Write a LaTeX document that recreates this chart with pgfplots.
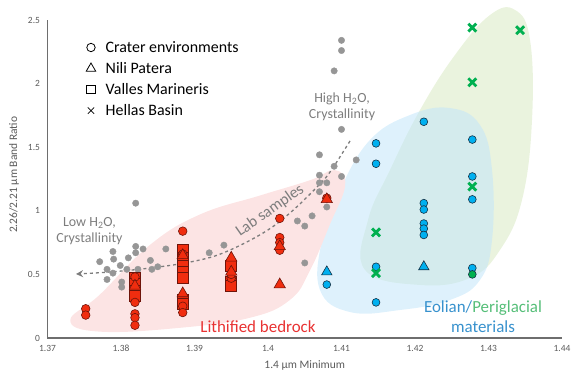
\documentclass[border=0pt]{standalone}
\usepackage{pgfplots}
\pgfplotsset{compat=1.18}
\usepackage{fontspec}
\setmainfont{Carlito}
\usetikzlibrary{arrows.meta}
\definecolor{redm}{RGB}{240,45,15}
\definecolor{redline}{RGB}{110,20,10}
\definecolor{bluem}{RGB}{0,176,240}
\definecolor{blueline}{RGB}{20,50,70}
\definecolor{greenm}{RGB}{0,176,80}
\definecolor{graym}{RGB}{150,150,150}
\definecolor{pinkr}{RGB}{252,228,228}
\definecolor{bluer}{RGB}{195,230,250}
\definecolor{greenr}{RGB}{234,243,222}
\definecolor{axgray}{RGB}{110,110,110}
\definecolor{tickgray}{RGB}{90,90,90}
\definecolor{txtgray}{RGB}{125,125,125}
\definecolor{lithred}{RGB}{232,50,50}
\definecolor{eolblue}{RGB}{55,145,205}
\definecolor{perigreen}{RGB}{85,190,120}
\begin{document}
\begin{tikzpicture}
\useasboundingbox (-47.5bp,-40bp) rectangle (525.5bp,338bp);
\begin{axis}[
  scale only axis, width=514.5bp, height=318bp,
  xmin=1.37, xmax=1.44, ymin=0, ymax=2.5,
  xtick={1.37,1.38,1.39,1.4,1.41,1.42,1.43,1.44},
  ytick={0,0.5,1,1.5,2,2.5},
  axis x line=bottom, axis y line=left,
  axis line style={-, draw=axgray, line width=1.3pt},
  major tick length=0pt,
  /pgf/number format/assume math mode=true,
  tick label style={font=\fontsize{9.5}{11}\selectfont, text=tickgray},
  xticklabel style={yshift=-4bp},
  yticklabel style={xshift=-4bp},
  xlabel={1.4 μm Minimum},
  ylabel={2.26/2.21 μm Band Ratio},
  xlabel style={font=\fontsize{11.5}{13}\selectfont, text=tickgray, at={(axis description cs:0.5,0)}, anchor=center, yshift=-27bp},
  ylabel style={font=\fontsize{11.5}{13}\selectfont, text=tickgray, at={(axis description cs:0,0.513)}, anchor=center, rotate=0, yshift=33.5bp},
  clip=false,
  legend cell align=left,
  legend style={at={(axis cs:1.37524,2.35)}, anchor=north west, draw=none, fill=none,
    font=\fontsize{16}{18}\selectfont, row sep=4.5bp, inner sep=0pt,
    /tikz/every odd column/.append style={column sep=8bp}},
]
% legend entries
\addlegendimage{only marks, mark=o, mark size=4.2bp, black, mark options={line width=0.8pt}}
\addlegendentry{Crater environments}
\addlegendimage{only marks, mark=triangle, mark size=5.5bp, black, mark options={line width=0.8pt}}
\addlegendentry{Nili Patera}
\addlegendimage{only marks, mark=square, mark size=4.2bp, black, mark options={line width=0.8pt}}
\addlegendentry{Valles Marineris}
\addlegendimage{only marks, mark=x, mark size=4.5bp, black, mark options={line width=0.8pt}}
\addlegendentry{Hellas Basin}

% shaded regions
\fill[greenr] plot[smooth cycle, tension=0.7] coordinates {
 (axis cs:1.4132,0.535) (axis cs:1.41361,0.928) (axis cs:1.4166,1.321) (axis cs:1.42068,1.792)
 (axis cs:1.42544,2.225) (axis cs:1.4302,2.539) (axis cs:1.43361,2.579) (axis cs:1.43565,2.343)
 (axis cs:1.43592,1.714) (axis cs:1.43456,1.085) (axis cs:1.43156,0.692) (axis cs:1.42748,0.472)
 (axis cs:1.42068,0.417)};
\fill[bluer, fill opacity=0.55] plot[smooth cycle, tension=0.7] coordinates {
 (axis cs:1.40707,0.377) (axis cs:1.40735,0.77) (axis cs:1.4098,1.164) (axis cs:1.41388,1.557)
 (axis cs:1.41932,1.753) (axis cs:1.42476,1.808) (axis cs:1.42884,1.675) (axis cs:1.43048,1.321)
 (axis cs:1.43048,0.77) (axis cs:1.42884,0.456) (axis cs:1.42476,0.299) (axis cs:1.41796,0.22)
 (axis cs:1.41116,0.204)};
\fill[pinkr] plot[smooth cycle, tension=0.7] coordinates {
 (axis cs:1.3731,0.14) (axis cs:1.3771,0.34) (axis cs:1.3839,0.73) (axis cs:1.3907,0.97)
 (axis cs:1.3989,1.12) (axis cs:1.4057,1.24) (axis cs:1.4091,1.32) (axis cs:1.4105,1.20)
 (axis cs:1.4084,0.89) (axis cs:1.4057,0.53) (axis cs:1.4030,0.30) (axis cs:1.3976,0.16)
 (axis cs:1.3880,0.08) (axis cs:1.3771,0.05)};

% lab samples (gray)
\addplot[only marks, mark=*, mark size=3.2bp, graym, forget plot] coordinates {
 (1.3771,0.60) (1.3781,0.54) (1.3781,0.46) (1.3789,0.51) (1.3799,0.57) (1.3801,0.44) (1.3801,0.40)
 (1.3810,0.63) (1.3820,0.67) (1.3820,0.72) (1.3820,1.06) (1.3830,0.70) (1.3840,0.61) (1.3842,0.54)
 (1.3861,0.70) (1.3808,0.54) (1.3823,0.54) (1.3790,0.62) (1.3789,0.68) (1.3850,0.56)
 (1.3920,0.67) (1.3940,0.73) (1.4040,0.92) (1.4050,0.88) (1.4060,0.96) (1.4050,0.59)
 (1.4070,1.22) (1.4080,1.22) (1.4070,1.15) (1.4080,1.03) (1.4070,1.44) (1.4090,1.35)
 (1.4120,1.40) (1.4070,1.28) (1.4100,1.27) (1.4100,2.34) (1.4100,2.26) (1.4090,2.10) (1.4100,1.64)};

% dashed trend arrow
\draw[txtgray, dashed, line width=1.3pt, -{Stealth[length=7bp,width=7bp]}] plot[smooth, tension=0.6] coordinates {
 (axis cs:1.41116,1.549) (axis cs:1.40844,1.305) (axis cs:1.40667,1.187) (axis cs:1.40299,0.983)
 (axis cs:1.39932,0.825) (axis cs:1.39388,0.668) (axis cs:1.38939,0.597) (axis cs:1.38395,0.55)
 (axis cs:1.3785,0.519) (axis cs:1.37388,0.503)};

% lithified bedrock (red)
\addplot[only marks, mark=square*, mark size=5.5bp, forget plot, mark options={fill=redm, draw=redline, line width=0.6pt}] coordinates {
 (1.3819,0.47) (1.3819,0.43) (1.3819,0.37) (1.3819,0.33)
 (1.3884,0.69) (1.3884,0.63) (1.3884,0.57) (1.3884,0.52) (1.3884,0.47) (1.3884,0.30) (1.3884,0.27)
 (1.3950,0.57) (1.3950,0.44) (1.3950,0.41)};
\addplot[only marks, mark=*, mark size=4.3bp, forget plot, mark options={fill=redm, draw=redline, line width=0.6pt}] coordinates {
 (1.3752,0.23) (1.3752,0.18) (1.3819,0.48) (1.3819,0.28) (1.3819,0.19) (1.3819,0.16) (1.3819,0.10)
 (1.3884,0.84) (1.3884,0.66) (1.3884,0.25) (1.3884,0.20) (1.3950,0.47) (1.3950,0.50)
 (1.4016,0.94) (1.4016,0.79) (1.4016,0.75) (1.4016,0.69) (1.4080,1.10)};
\addplot[only marks, mark=triangle*, mark size=6.5bp, forget plot, mark options={fill=redm, draw=redline, line width=0.6pt}] coordinates {
 (1.3819,0.41) (1.3884,0.65) (1.3884,0.35) (1.3950,0.63) (1.3950,0.52) (1.4016,0.72) (1.4016,0.42) (1.4080,1.09)};

% eolian (blue)
\addplot[only marks, mark=*, mark size=3.9bp, forget plot, mark options={fill=bluem, draw=blueline, line width=0.6pt}] coordinates {
 (1.4080,0.42) (1.4147,1.53) (1.4147,1.37) (1.4147,0.56) (1.4147,0.28)
 (1.4212,1.70) (1.4212,1.06) (1.4212,1.01) (1.4212,0.90) (1.4212,0.86) (1.4212,0.81)
 (1.4278,1.56) (1.4278,1.27) (1.4278,1.09) (1.4278,0.55)};
\addplot[only marks, mark=triangle*, mark size=6bp, forget plot, mark options={fill=bluem, draw=blueline, line width=0.6pt}] coordinates {
 (1.4080,0.52) (1.4212,0.56)};
\addplot[only marks, mark=*, mark size=3.9bp, forget plot, mark options={fill=greenm, draw=blueline, line width=0.6pt}] coordinates {
 (1.4278,0.50)};
% periglacial (green x)
\addplot[only marks, mark=x, mark size=5.6bp, forget plot, mark options={draw=greenm, line width=2.8pt}] coordinates {
 (1.4147,0.83) (1.4147,0.51) (1.4278,1.19) (1.4278,2.44) (1.4278,2.01) (1.4343,2.42)};

% annotations
\node[txtgray, align=center, font=\fontsize{14}{16.5}\selectfont] at (axis cs:1.37571,0.841) {Low H\textsubscript{2}O,\\Crystallinity};
\node[txtgray, align=center, font=\fontsize{14}{16.5}\selectfont] at (axis cs:1.41007,1.816) {High H\textsubscript{2}O,\\Crystallinity};
\node[txtgray, rotate=35, font=\fontsize{16}{18}\selectfont] at (axis cs:1.40027,1.0) {Lab samples};
\node[lithred, font=\fontsize{17}{19}\selectfont] at (axis cs:1.39864,0.0865) {Lithified bedrock};
\node[align=center, font=\fontsize{17}{20}\selectfont] at (axis cs:1.42925,0.165) {\textcolor{eolblue}{Eolian/}\textcolor{perigreen}{Periglacial}\\\textcolor{eolblue}{materials}};
\end{axis}
\end{tikzpicture}
\end{document}
